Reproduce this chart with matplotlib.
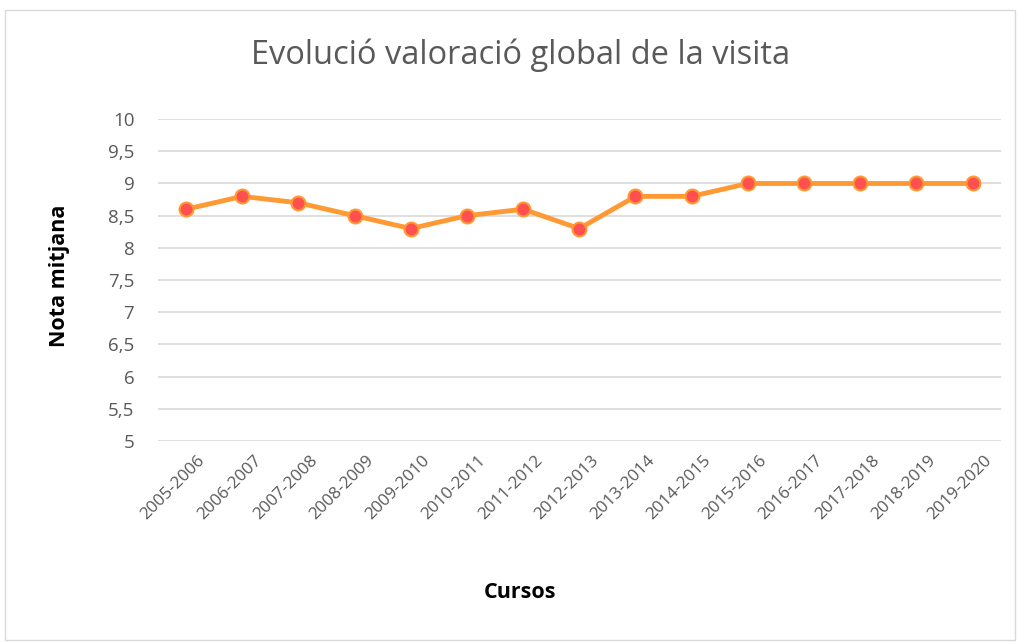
import matplotlib
matplotlib.use('Agg')
import matplotlib.pyplot as plt
import matplotlib.transforms as mtransforms
from matplotlib.patches import Rectangle

cursos = ['2005-2006', '2006-2007', '2007-2008', '2008-2009', '2009-2010',
          '2010-2011', '2011-2012', '2012-2013', '2013-2014', '2014-2015',
          '2015-2016', '2016-2017', '2017-2018', '2018-2019', '2019-2020']
notes = [8.6, 8.8, 8.7, 8.5, 8.3, 8.5, 8.6, 8.3, 8.8, 8.8, 9, 9, 9, 9, 9]
yticks = [5, 5.5, 6, 6.5, 7, 7.5, 8, 8.5, 9, 9.5, 10]

plt.rcParams['font.family'] = ['Open Sans', 'DejaVu Sans']
text_col = '#595959'

fig = plt.figure(figsize=(10.19, 6.42), dpi=100)
fig.patches.append(Rectangle((5 / 1019, 1 - 640 / 642), 1010 / 1019, 630 / 642,
                             transform=fig.transFigure, fill=False,
                             edgecolor='#d9d9d9', linewidth=1))
ax = fig.add_axes([0.155, 0.313, 0.827, 0.5015])

x = range(len(cursos))
ax.plot(x, notes, color='#ff9933', linewidth=3.5, marker='o', markersize=10,
        markerfacecolor='#ff5050', markeredgecolor='#ff9933', markeredgewidth=1.5,
        zorder=3)

ax.set_xlim(-0.5, len(cursos) - 0.5)
ax.set_ylim(5, 10)
ax.set_yticks(yticks)
ax.set_yticklabels([('%g' % v).replace('.', ',') for v in yticks])
ax.set_xticks(list(x))
ax.set_xticklabels(cursos, rotation=45, ha='right', rotation_mode='anchor')
ax.tick_params(axis='both', length=0, colors=text_col)
ax.tick_params(axis='y', labelsize=13.5, pad=17)
ax.tick_params(axis='x', labelsize=12.3, pad=8)

# nudge rotated labels to the right like the original
offset = mtransforms.ScaledTranslation(11 / 100, 0, fig.dpi_scale_trans)
for lab in ax.get_xticklabels():
    lab.set_transform(lab.get_transform() + offset)

ax.grid(axis='y', color='#d9d9d9', linewidth=1.2)
ax.set_axisbelow(True)
for s in ax.spines.values():
    s.set_visible(False)

fig.text(60 / 1019, 1 - 276 / 642, 'Nota mitjana', rotation=90, ha='center', va='center',
         fontsize=15.5, fontweight='bold', color='black')
fig.text(520 / 1019, 1 - 593 / 642, 'Cursos', ha='center', va='center',
         fontsize=15.5, fontweight='bold', color='black')
fig.text(521 / 1019, 1 - 55 / 642, 'Evolució valoració global de la visita', ha='center', va='center',
         fontsize=23.5, color=text_col)

plt.savefig('out.png', dpi=100)
